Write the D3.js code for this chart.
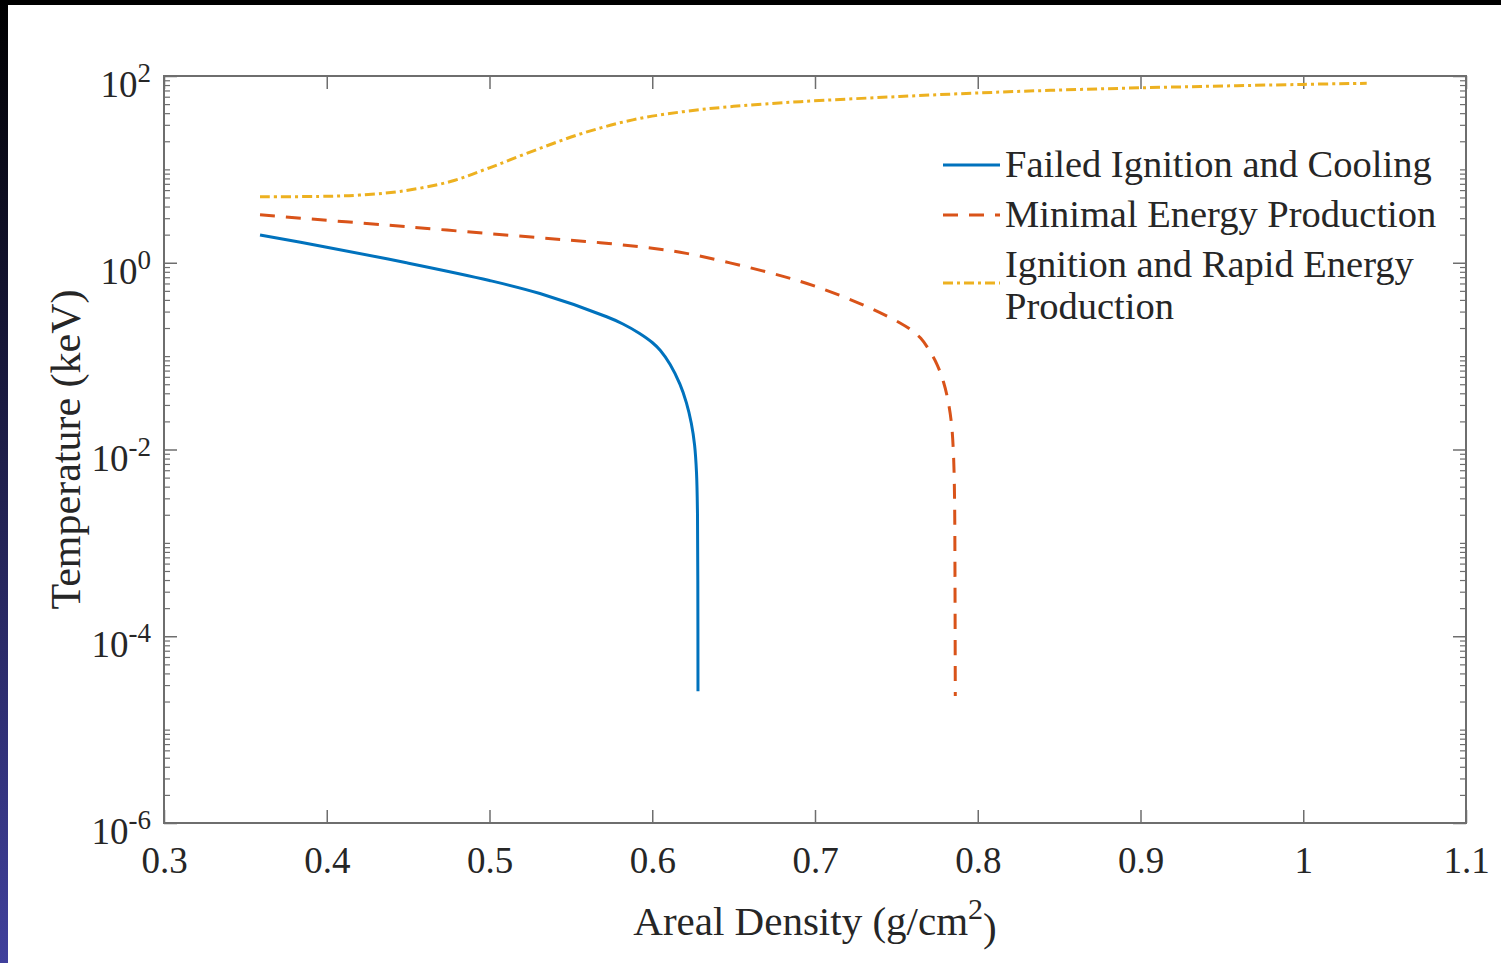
<!DOCTYPE html>
<html>
<head>
<meta charset="utf-8">
<script src="https://cdn.jsdelivr.net/npm/d3@7"></script>
<style>
  html, body { margin: 0; padding: 0; background: #000; }
  svg { display: block; }
  text { font-family: "Liberation Serif", "Times New Roman", serif; fill: #262626; }
</style>
</head>
<body>
<div id="chart"></div>
<script>
// tick values
const xTicks = [0.3, 0.4, 0.5, 0.6, 0.7, 0.8, 0.9, 1.0, 1.1];
const yExps = [2, 0, -2, -4, -6];

// Failed Ignition and Cooling (blue, solid)
const failedX = [0.359, 0.40, 0.449, 0.50, 0.531, 0.572, 0.582, 0.592, 0.600, 0.605, 0.611, 0.617, 0.621, 0.624, 0.626, 0.6272, 0.6278, 0.6280, 0.6281];
const failedT = [1.986, 1.469, 1.0, 0.646, 0.468, 0.264, 0.221, 0.176, 0.140, 0.115, 0.0813, 0.0501, 0.0316, 0.0191, 0.0112, 0.00562, 0.0020, 0.000398, 2.57e-5];

// Minimal Energy Production (orange, dashed)
const minimalX = [0.359, 0.449, 0.531, 0.568, 0.600, 0.621, 0.670, 0.701, 0.732, 0.752, 0.759, 0.765, 0.770, 0.775, 0.779, 0.782, 0.784, 0.7852, 0.7858, 0.7860, 0.7862];
const minimalT = [3.26, 2.43, 1.85, 1.64, 1.43, 1.26, 0.80, 0.553, 0.338, 0.228, 0.191, 0.155, 0.117, 0.0813, 0.0525, 0.0316, 0.0178, 0.00794, 0.00251, 0.0005, 2.29e-5];

// Ignition and Rapid Energy Production (yellow, dash-dot)
const ignitionX = [0.359, 0.40, 0.42, 0.445, 0.476, 0.50, 0.527, 0.557, 0.588, 0.619, 0.650, 0.691, 0.752, 0.814, 0.875, 0.937, 1.0, 1.039];
const ignitionT = [5.08, 5.15, 5.30, 5.81, 7.41, 10.4, 15.8, 24.3, 33.9, 41.5, 47.3, 53.1, 60.3, 67.3, 72.8, 77.3, 81.3, 83.6];

const legendNames = [["Failed Ignition and Cooling"], ["Minimal Energy Production"], ["Ignition and Rapid Energy", "Production"]];

drawChart("#chart");

function drawChart(id){
  const W = 1501, H = 963;
  const plot = { left: 164, right: 1466, top: 76, bottom: 823 };

  const svg = d3.select(id).append("svg")
    .attr("width", W).attr("height", H);

  // dark frame round the picture
  const defs = svg.append("defs");
  const grad = defs.append("linearGradient").attr("id", "edge")
    .attr("x1", 0).attr("y1", 0).attr("x2", 0).attr("y2", 1);
  grad.append("stop").attr("offset", "0%").attr("stop-color", "#000000");
  grad.append("stop").attr("offset", "100%").attr("stop-color", "#40409c");
  svg.append("rect").attr("x", 0).attr("y", 0).attr("width", W).attr("height", H).attr("fill", "#000");
  svg.append("rect").attr("x", 0).attr("y", 0).attr("width", 8).attr("height", H).attr("fill", "url(#edge)");
  svg.append("rect").attr("x", 8).attr("y", 5).attr("width", W - 8).attr("height", H - 5).attr("fill", "#fff");

  const x = d3.scaleLinear().domain([0.3, 1.1]).range([plot.left, plot.right]);
  const y = d3.scaleLog().domain([1e-6, 1e2]).range([plot.bottom, plot.top]);

  // minor ticks for the log axis: 2..9 x 10^k, plus the unlabelled odd decades
  const minorTicks = [];
  for (let k = -6; k < 2; k++) {
    for (let m = 2; m <= 9; m++) minorTicks.push(m * Math.pow(10, k));
    if (k % 2 !== 0) minorTicks.push(Math.pow(10, k));
  }

  const majorY = yExps.map(e => Math.pow(10, e));

  const axisColor = "#6e6e6e";

  function styleAxis(g){
    g.select(".domain").remove();
    g.selectAll(".tick line").attr("stroke", axisColor).attr("stroke-width", 1.5);
  }

  // bottom axis
  svg.append("g")
    .attr("transform", "translate(0," + plot.bottom + ")")
    .call(d3.axisBottom(x).tickValues(xTicks).tickSizeInner(-13).tickSizeOuter(0).tickPadding(24)
      .tickFormat(d3.format("~g")))
    .call(styleAxis)
    .call(g => g.selectAll(".tick text").style("font-size", "37px").attr("fill", "#262626")
      .style("font-family", "'Liberation Serif', serif"));

  // top axis (ticks only)
  svg.append("g")
    .attr("transform", "translate(0," + plot.top + ")")
    .call(d3.axisTop(x).tickValues(xTicks).tickSizeInner(-13).tickSizeOuter(0).tickFormat(""))
    .call(styleAxis);

  // left / right axes, major then minor
  [[d3.axisLeft, plot.left], [d3.axisRight, plot.right]].forEach(([ax, pos]) => {
    svg.append("g")
      .attr("transform", "translate(" + pos + ",0)")
      .call(ax(y).tickValues(majorY).tickSizeInner(-13).tickSizeOuter(0).tickFormat(""))
      .call(styleAxis);
    svg.append("g")
      .attr("transform", "translate(" + pos + ",0)")
      .call(ax(y).tickValues(minorTicks).tickSizeInner(-6).tickSizeOuter(0).tickFormat(""))
      .call(styleAxis)
      .call(g => g.selectAll(".tick line").attr("stroke-width", 1.2));
  });

  // y tick labels 10^n
  const yLab = svg.append("g").selectAll("text")
    .data(yExps).enter()
    .append("text")
    .attr("x", 151)
    .attr("y", d => y(Math.pow(10, d)) + 21)
    .attr("text-anchor", "end")
    .style("font-size", "37px");
  yLab.append("tspan").text("10");
  yLab.append("tspan").attr("dy", "-0.55em").style("font-size", "27px").text(d => String(d));

  // box
  svg.append("rect")
    .attr("x", plot.left).attr("y", plot.top)
    .attr("width", plot.right - plot.left).attr("height", plot.bottom - plot.top)
    .attr("fill", "none").attr("stroke", axisColor).attr("stroke-width", 2);

  // axis labels
  const xl = svg.append("text")
    .attr("x", (plot.left + plot.right) / 2).attr("y", 935)
    .attr("text-anchor", "middle").style("font-size", "41px");
  xl.append("tspan").text("Areal Density (g/cm");
  xl.append("tspan").attr("dy", "-0.55em").style("font-size", "30px").text("2");
  xl.append("tspan").attr("dy", "0.55em").text(")");

  svg.append("text")
    .attr("transform", "translate(80," + (plot.top + plot.bottom) / 2 + ") rotate(-90)")
    .attr("text-anchor", "middle").style("font-size", "42px")
    .text("Temperature (keV)");

  // series
  const series = [
    { xs: failedX, ts: failedT, color: "#0072BD", dash: null },
    { xs: minimalX, ts: minimalT, color: "#D95319", dash: "15,11" },
    { xs: ignitionX, ts: ignitionT, color: "#EDB120", dash: "10,4,3,4" }
  ];

  const line = d3.line()
    .x(d => x(d[0]))
    .y(d => y(d[1]))
    .curve(d3.curveCatmullRom.alpha(0.5));

  svg.append("g").selectAll("path")
    .data(series).enter()
    .append("path")
    .attr("d", s => line(s.xs.map((v, i) => [v, s.ts[i]])))
    .attr("fill", "none")
    .attr("stroke", s => s.color)
    .attr("stroke-width", 3)
    .attr("stroke-dasharray", s => s.dash);

  // legend
  const legY = [165, 215, 283];
  const legTextY = [177, 227, 277];
  const leg = svg.append("g");
  series.forEach((s, i) => {
    leg.append("line")
      .attr("x1", 943).attr("x2", 1000)
      .attr("y1", legY[i]).attr("y2", legY[i])
      .attr("stroke", s.color).attr("stroke-width", 3)
      .attr("stroke-dasharray", s.dash);
    legendNames[i].forEach((t, j) => {
      leg.append("text")
        .attr("x", 1005).attr("y", legTextY[i] + j * 42)
        .style("font-size", "38.5px")
        .text(t);
    });
  });
}
</script>
</body>
</html>
